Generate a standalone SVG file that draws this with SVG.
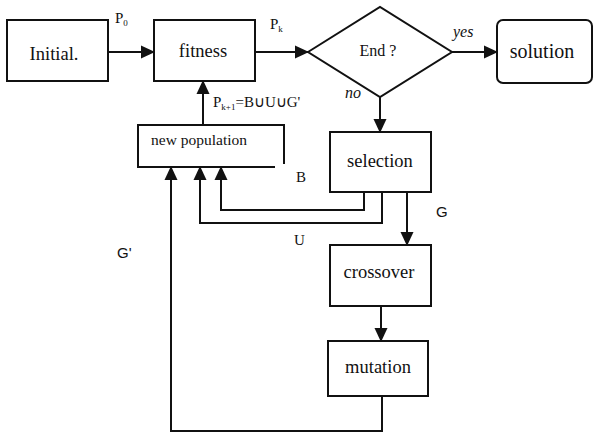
<svg xmlns="http://www.w3.org/2000/svg" width="593" height="433" viewBox="0 0 593 433" font-family="'Liberation Serif', 'Times New Roman', serif">
  <style>
    .box { fill: #fff; stroke: #111; stroke-width: 2; }
    .open { fill: none; stroke: #111; stroke-width: 2; }
    .wire { fill: none; stroke: #111; stroke-width: 2; }
    text { fill: #111; }
    .lbl { text-anchor: middle; }
  </style>
  <defs>
    <marker id="head" markerWidth="14" markerHeight="14" refX="13" refY="7" orient="auto" markerUnits="userSpaceOnUse">
      <path d="M0,0.5 L14,7 L0,13.5 Z" fill="#111"/>
    </marker>
  </defs>
  <rect width="593" height="433" fill="#fff"/>

  <g id="initial">
    <rect class="box" x="7" y="20" width="101" height="61"/>
    <text class="lbl" x="54" y="60" font-size="18.5" font-family="Liberation Serif, serif">Initial.</text>
  </g>

  <g id="fitness">
    <rect class="box" x="154" y="20" width="101" height="61"/>
    <text class="lbl" x="203" y="57" font-size="18.5" font-family="Liberation Serif, serif">fitness</text>
  </g>

  <g id="end">
    <polygon class="box" points="308,52 380,7 452,52 380,97"/>
    <text class="lbl" x="378" y="56" font-size="16" font-family="Liberation Serif, serif">End ?</text>
  </g>

  <g id="solution">
    <rect class="box" x="497" y="20" width="95" height="63" rx="6"/>
    <text class="lbl" x="542" y="58" font-size="20" font-family="Liberation Serif, serif">solution</text>
  </g>

  <g id="new-population">
    <path class="open" d="M275,167 H138 V125 H284 V164"/>
    <text class="lbl" x="199" y="145" font-size="15.5" font-family="Liberation Serif, serif">new population</text>
  </g>

  <g id="selection">
    <rect class="box" x="330" y="132" width="101" height="60"/>
    <text class="lbl" x="380" y="167" font-size="18.5" font-family="Liberation Serif, serif">selection</text>
  </g>

  <g id="crossover">
    <rect class="box" x="330" y="245" width="101" height="61"/>
    <text class="lbl" x="379" y="278" font-size="18.5" font-family="Liberation Serif, serif">crossover</text>
  </g>

  <g id="mutation">
    <rect class="box" x="328" y="341" width="100" height="55"/>
    <text class="lbl" x="378" y="373" font-size="18.5" font-family="Liberation Serif, serif">mutation</text>
  </g>

  <g id="connectors">
    <path class="wire" d="M108,52 H154" marker-end="url(#head)"/>
    <path class="wire" d="M255,52 H308" marker-end="url(#head)"/>
    <path class="wire" d="M452,52 H497" marker-end="url(#head)"/>
    <path class="wire" d="M380,97 V132" marker-end="url(#head)"/>
    <path class="wire" d="M203,125 V81" marker-end="url(#head)"/>
    <path class="wire" d="M407,192 V245" marker-end="url(#head)"/>
    <path class="wire" d="M381,306 V341" marker-end="url(#head)"/>
    <path class="wire" d="M364,192 V210 H221 V167" marker-end="url(#head)"/>
    <path class="wire" d="M382,192 V223 H200 V167" marker-end="url(#head)"/>
    <path class="wire" d="M382,396 V431 H171 V167" marker-end="url(#head)"/>
  </g>

  <g id="labels" font-family="Liberation Serif, serif">
    <text x="115" y="23" font-size="15">P<tspan font-size="9" dy="3">0</tspan></text>
    <text x="270" y="29" font-size="15">P<tspan font-size="9" dy="3">k</tspan></text>
    <text x="213" y="107" font-size="15">P<tspan font-size="9" dy="3">k+1</tspan><tspan dy="-3">=B∪U∪G'</tspan></text>
    <text x="453" y="37" font-size="16" font-style="italic">yes</text>
    <text x="345" y="98" font-size="16" font-style="italic">no</text>
    <text x="296" y="182" font-size="15">B</text>
    <text x="294" y="245" font-size="15">U</text>
    <text x="436" y="217" font-size="15" font-family="Liberation Sans, sans-serif">G</text>
    <text x="117" y="258" font-size="15" font-family="Liberation Sans, sans-serif">G'</text>
  </g>
</svg>
